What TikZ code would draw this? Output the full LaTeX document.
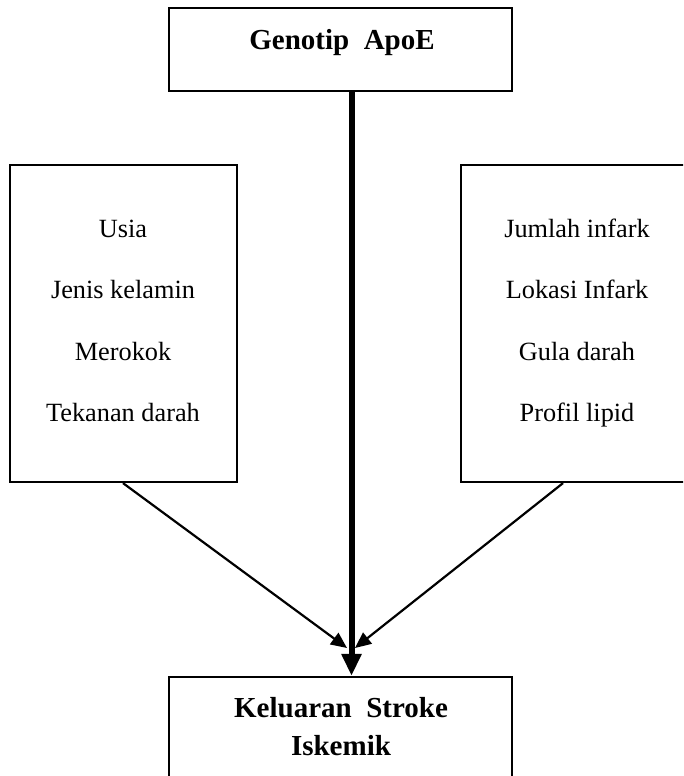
\documentclass[tikz,border=0pt]{standalone}
\usepackage{fontspec}
\setmainfont{Liberation Serif}
\usetikzlibrary{arrows.meta}
\tikzset{
  box/.style={draw, line width=2.2pt, rectangle, inner sep=0pt},
  reg/.style={anchor=base, font=\fontsize{26.3}{30}\selectfont, inner sep=0pt},
  bld/.style={anchor=base, font=\fontsize{29}{33}\selectfont\bfseries, inner sep=0pt},
  thickarrow/.style={line width=6pt, -{Triangle[width=19pt,length=22pt]}},
  thinarrow/.style={line width=2.2pt, -{Triangle[width=14pt,length=16pt]}}
}
\begin{document}
\begin{tikzpicture}[x=1pt,y=-1pt]
\useasboundingbox (0,0) rectangle (683,776);
\clip (0,0) rectangle (683,776);
\fill[white] (0,0) rectangle (683,776);
% boxes
\node[box, minimum width=343pt, minimum height=83pt] (gen) at (340.5,49.5) {};
\node[box, minimum width=227pt, minimum height=317pt] (lf) at (123.5,323.5) {};
\node[box, minimum width=232pt, minimum height=317pt] (rf) at (577,323.5) {};
\node[box, minimum width=343pt, minimum height=126pt] (out) at (340.5,740) {};
% texts
\node[bld] (gent) at (342,50) {Genotip\ \ ApoE};
\node[reg] (l1) at (123,237) {Usia};
\node[reg] (l2) at (123,298) {Jenis kelamin};
\node[reg] (l3) at (123,360) {Merokok};
\node[reg] (l4) at (123,421) {Tekanan darah};
\node[reg] (r1) at (577,237) {Jumlah infark};
\node[reg] (r2) at (577,298) {Lokasi Infark};
\node[reg] (r3) at (577,360) {Gula darah};
\node[reg] (r4) at (577,421) {Profil lipid};
\node[bld] (o1) at (341,717) {Keluaran\ \ Stroke};
\node[bld] (o2) at (341,755) {Iskemik};
% connectors
\coordinate (vx) at (351.5,0);
\coordinate (lx) at (123,0);
\coordinate (rx) at (563,0);
\coordinate (ltip) at (347,648);
\coordinate (rtip) at (355,648);
\draw[thinarrow] (lf.south -| lx) -- (ltip);
\draw[thinarrow] (rf.south -| rx) -- (rtip);
\draw[thickarrow] (gen.south -| vx) -- (out.north -| vx);
\end{tikzpicture}
\end{document}
